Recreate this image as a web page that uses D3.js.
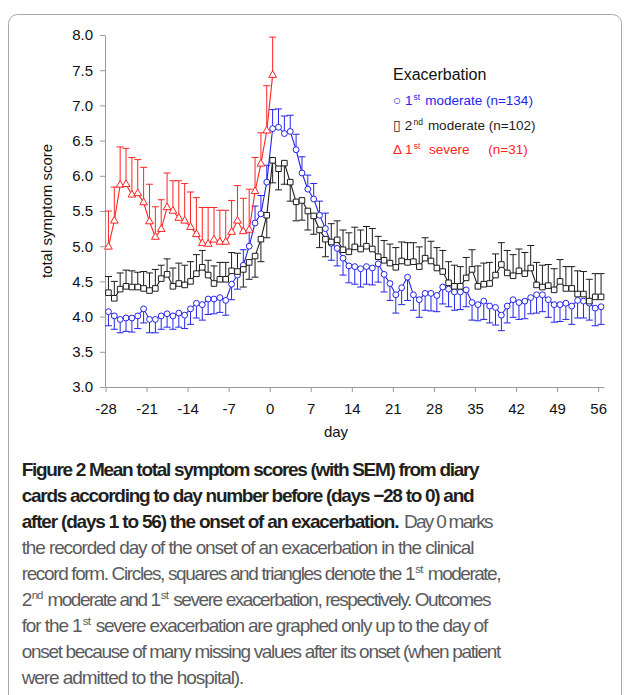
<!DOCTYPE html>
<html>
<head>
<meta charset="utf-8">
<script src="https://cdn.jsdelivr.net/npm/d3@7"></script>
<style>
  body { margin: 0; background: #fff; }
  svg { display: block; }
</style>
</head>
<body>
<svg id="chart" width="630" height="695"></svg>
<script>
// ---------------- DATA ----------------
const days = d3.range(-28, 57);          // -28 ... 56 (85 days)
const severeDays = d3.range(-28, 1);     // -28 ... 0 (29 days)

const moderate1Mean = [
  4.07,4.01,3.96,3.98,3.98,4.01,4.11,3.96,3.96,4.01, 4.04,4.01,4.05,4.02,4.11,4.19,4.17,4.25,4.25,4.27,
  4.23,4.46,4.59,4.73,5.00,5.33,5.46,5.91,
  6.67,6.69,6.60,6.63,6.37,6.04,5.81,5.67,5.44,5.25, 5.04,4.97,4.83,4.72,4.71,
  4.68,4.71,4.69,4.75,4.60,4.47,4.31,4.41,4.56,4.31, 4.24,4.33,4.33,4.30,4.42,4.39,4.35,4.35,4.38,4.20, 4.17,
  4.22,4.15,4.13,4.02,4.15,4.24,4.20,4.22,4.27,4.31, 4.31,4.24,4.17,4.17,4.19,4.15,4.23,4.22,4.19,4.12, 4.14
];
const moderate1Sem = [
  0.20,0.19,0.19,0.19,0.20,0.18,0.20,0.19,0.19,0.19, 0.19,0.19,0.20,0.19,0.22,0.21,0.22,0.22,0.21,0.21,
  0.21,0.22,0.20,0.22,0.22,0.24,0.26,0.24,
  0.27,0.26,0.25,0.23,0.22,0.23,0.20,0.22,0.20,0.22, 0.24,0.25,0.24,0.24,0.25,
  0.26,0.25,0.24,0.26,0.25,0.24,0.26,0.24,0.33,0.22, 0.25,0.24,0.25,0.23,0.24,0.25,0.26,0.25,0.24,0.25, 0.23,
  0.26,0.24,0.25,0.22,0.24,0.25,0.24,0.25,0.23,0.26, 0.24,0.25,0.25,0.24,0.23,0.26,0.25,0.24,0.24,0.25, 0.25
];
const moderate2Mean = [
  4.34,4.26,4.39,4.43,4.42,4.42,4.40,4.37,4.40,4.54, 4.60,4.43,4.47,4.45,4.50,4.61,4.70,4.59,4.47,4.53,
  4.53,4.65,4.64,4.67,4.77,4.86,5.10,5.44,
  6.22,6.10,6.18,5.91,5.63,5.65,5.50,5.43,5.23,5.10, 5.06,5.09,4.95,4.92,4.99,
  4.96,5.00,4.96,4.85,4.80,4.76,4.70,4.79,4.77,4.78, 4.71,4.83,4.79,4.69,4.64,4.48,4.43,4.43,4.55,4.67, 4.43,
  4.46,4.47,4.59,4.74,4.62,4.58,4.65,4.61,4.69,4.45, 4.42,4.44,4.38,4.50,4.40,4.40,4.32,4.32,4.22,4.28, 4.28
];
const moderate2Sem = [
  0.23,0.24,0.23,0.23,0.23,0.21,0.24,0.25,0.27,0.19, 0.22,0.26,0.29,0.28,0.28,0.27,0.24,0.21,0.25,0.24,
  0.24,0.26,0.26,0.25,0.24,0.30,0.32,0.32,
  0.32,0.30,0.30,0.27,0.27,0.28,0.27,0.26,0.25,0.25, 0.26,0.27,0.28,0.27,0.28,
  0.27,0.28,0.29,0.29,0.28,0.27,0.28,0.27,0.28,0.27, 0.28,0.29,0.28,0.29,0.30,0.30,0.30,0.28,0.29,0.28, 0.29,
  0.30,0.30,0.30,0.31,0.32,0.30,0.31,0.30,0.32,0.32, 0.31,0.30,0.30,0.31,0.31,0.31,0.33,0.32,0.31,0.33, 0.33
];
const severe1Mean = [
  4.99,5.36,5.87,5.88,5.73,5.75,5.62,5.35,5.13,5.24, 5.55,5.50,5.40,5.36,5.27,5.17,5.04,5.03,5.09,5.06,
  5.06,5.20,5.36,5.21,5.23,5.78,6.17,6.64,7.43
];
const severe1Sem = [
  0.51,0.48,0.54,0.51,0.53,0.48,0.50,0.53,0.43,0.42, 0.49,0.43,0.53,0.53,0.50,0.52,0.51,0.52,0.46,0.45,
  0.45,0.45,0.50,0.47,0.58,0.48,0.44,0.64,0.54
];

const xTicks = [-28,-21,-14,-7,0,7,14,21,28,35,42,49,56];
const yTicks = [3.0,3.5,4.0,4.5,5.0,5.5,6.0,6.5,7.0,7.5,8.0];

const legendTitle = "Exacerbation";
const legendItems = [
  {segs: ["\u25CB 1", "st", " moderate (n=134)"], key: "blue"},
  {segs: ["\u25AF 2", "nd", " moderate (n=102)"], key: "black"},
  {segs: ["\u0394 1", "st", "  severe     (n=31)"], key: "red"}
];

// ---------------- STYLE ----------------
const COLORS = {blue: "#2424ee", black: "#1c1c1c", red: "#ff2424"};
const AXIS_COLOR = "#9a9a9a";
const FONT = "'Liberation Sans', Arial, Helvetica, sans-serif";
const CAP_FONT = "'Liberation Sans Narrow', 'Arial Narrow', 'Liberation Sans', Arial, sans-serif";

const svg = d3.select("#chart");

// frame
svg.append("rect")
  .attr("x", 8.5).attr("y", 14.5).attr("width", 613).attr("height", 730)
  .attr("rx", 9).attr("ry", 9)
  .attr("fill", "none").attr("stroke", "#a8a8a8").attr("stroke-width", 1);

// scales
const x = d3.scaleLinear().domain([-28.5, 56.5]).range([105.5, 604]);
const xAxisScale = d3.scaleLinear().domain([-28, 57]).range([105.5, 604]);
const y = d3.scaleLinear().domain([3, 8]).range([387, 35]);

// axes
const gx = svg.append("g").attr("transform", "translate(0,387)")
  .call(d3.axisBottom(xAxisScale).tickValues(xTicks).tickSize(5).tickSizeOuter(0)
    .tickPadding(11).tickFormat(d => String(d)));
gx.attr("font-family", FONT).attr("font-size", 15);
gx.select(".domain").attr("stroke", AXIS_COLOR);
gx.selectAll(".tick line").attr("stroke", AXIS_COLOR);
gx.selectAll(".tick text").attr("fill", "#111");

const gy = svg.append("g").attr("transform", "translate(105,0)")
  .call(d3.axisLeft(y).tickValues(yTicks).tickSize(5).tickSizeOuter(0)
    .tickPadding(7).tickFormat(d3.format(".1f")));
gy.attr("font-family", FONT).attr("font-size", 15);
gy.select(".domain").attr("stroke", AXIS_COLOR);
gy.selectAll(".tick line").attr("stroke", AXIS_COLOR);
gy.selectAll(".tick text").attr("fill", "#111");

// axis titles
svg.append("text").attr("x", 336).attr("y", 437).attr("text-anchor", "middle")
  .attr("font-family", FONT).attr("font-size", 15).attr("fill", "#111").text("day");
svg.append("text").attr("transform", "translate(52,211) rotate(-90)").attr("text-anchor", "middle")
  .attr("font-family", FONT).attr("font-size", 15).attr("fill", "#111").text("total symptom score");

// series
function drawSeries(dayList, means, sems, dirs, color, symType, symSize) {
  const pts = dayList.map((d, i) => ({d: d, v: means[i], s: sems[i], dir: dirs[i]}));
  const g = svg.append("g");
  const eb = g.append("g").attr("stroke", color).attr("stroke-width", 1);
  eb.selectAll("line.v").data(pts).join("line").attr("class", "v")
    .attr("x1", p => x(p.d)).attr("x2", p => x(p.d))
    .attr("y1", p => y(p.v)).attr("y2", p => y(p.v + p.dir * p.s));
  eb.selectAll("line.c").data(pts).join("line").attr("class", "c")
    .attr("x1", p => x(p.d) - 3.5).attr("x2", p => x(p.d) + 3.5)
    .attr("y1", p => y(p.v + p.dir * p.s)).attr("y2", p => y(p.v + p.dir * p.s));
  g.append("path").datum(pts)
    .attr("fill", "none").attr("stroke", color).attr("stroke-width", 1.1)
    .attr("d", d3.line().x(p => x(p.d)).y(p => y(p.v)));
  const sym = d3.symbol().type(symType).size(symSize);
  g.selectAll("path.m").data(pts).join("path").attr("class", "m")
    .attr("transform", p => `translate(${x(p.d)},${y(p.v)})`)
    .attr("d", sym).attr("fill", "#fff").attr("stroke", color).attr("stroke-width", 1);
}

const dirBlue = days.map((d, i) => moderate1Mean[i] > moderate2Mean[i] ? 1 : -1);
const dirBlack = dirBlue.map(v => -v);
const dirRed = severeDays.map(() => 1);

drawSeries(days, moderate1Mean, moderate1Sem, dirBlue, COLORS.blue, d3.symbolCircle, 27);
drawSeries(days, moderate2Mean, moderate2Sem, dirBlack, COLORS.black, d3.symbolSquare, 31);
drawSeries(severeDays, severe1Mean, severe1Sem, dirRed, COLORS.red, d3.symbolTriangle, 26);

// helper: draw a run of segments (odd index = superscript) as separate text elements,
// fitted to a target width with letter-spacing (so measured boxes stay exact)
function textRun(segs, x0, baseY, opts) {
  const g = svg.append("g");
  const gap = segs.length > 1 ? 1.2 : 0;
  const els = segs.map((s, i) => {
    const sup = i % 2 === 1;
    return g.append("text")
      .attr("y", sup ? baseY - opts.supShift : baseY)
      .attr("font-family", opts.font).attr("font-size", sup ? opts.supSize : opts.size)
      .attr("font-weight", opts.weight || "normal")
      .attr("fill", opts.fill).style("white-space", "pre").text(s);
  });
  const widths = els.map(e => e.node().getComputedTextLength());
  const total = d3.sum(widths);
  const k = opts.width ? (opts.width - gap * (segs.length - 1)) / total : 1;
  let cx = x0;
  els.forEach((e, i) => {
    e.attr("x", cx);
    const target = widths[i] * k;
    if (opts.width) {
      const n = segs[i].length;
      const ls = (target - widths[i]) / n;
      e.style("letter-spacing", ls.toFixed(3) + "px");
      const w2 = e.node().getComputedTextLength();
      if (Math.abs(w2 - target) > 0.5) {
        e.style("letter-spacing", (ls + (target - w2) / n).toFixed(3) + "px");
      }
    }
    cx += target + gap;
  });
  return g;
}

// legend
svg.append("text").attr("x", 393).attr("y", 80)
  .attr("font-family", FONT).attr("font-size", 16).attr("fill", "#111").text(legendTitle);
legendItems.forEach((it, i) => {
  textRun(it.segs, 393, 105 + i * 24.5,
    {font: FONT, size: 13.5, supSize: 8.5, supShift: 5, fill: COLORS[it.key]});
});

// caption
const capLines = [
  [{segs: ["Figure 2 Mean total symptom scores (with SEM) from diary"], b: true, x0: 21.7, x1: 478.3}],
  [{segs: ["cards according to day number before (days \u221228 to 0) and"], b: true, x0: 21.7, x1: 473.3}],
  [{segs: ["after (days 1 to 56) the onset of an exacerbation."], b: true, x0: 21.7, x1: 398.3},
   {segs: ["Day 0 marks"], b: false, x0: 404, x1: 491.7}],
  [{segs: ["the recorded day of the onset of an exacerbation in the clinical"], x0: 21.7, x1: 473.3}],
  [{segs: ["record form. Circles, squares and triangles denote the 1", "st", " moderate,"], x0: 21.7, x1: 500}],
  [{segs: ["2", "nd", " moderate and 1", "st", " severe exacerbation, respectively. Outcomes"], x0: 21.7, x1: 490}],
  [{segs: ["for the 1", "st", " severe exacerbation are graphed only up to the day of"], x0: 21.7, x1: 487}],
  [{segs: ["onset because of many missing values after its onset (when patient"], x0: 21.7, x1: 500}],
  [{segs: ["were admitted to the hospital)."], x0: 21.7, x1: 243.3}]
];
capLines.forEach((line, li) => {
  const by = 476 + li * 26;
  line.forEach(p => {
    textRun(p.segs, p.x0, by, {
      font: CAP_FONT, size: 19, supSize: 11.5, supShift: 7,
      weight: p.b ? "bold" : "normal",
      fill: p.b ? "#231f20" : "#5a5a5c",
      width: p.x1 - p.x0
    });
  });
});
</script>
</body>
</html>
